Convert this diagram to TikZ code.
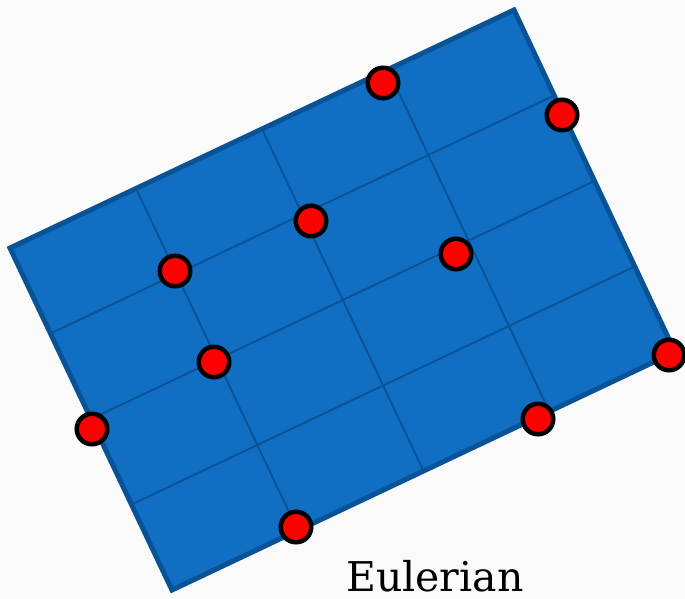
\documentclass[tikz,border=0pt]{standalone}
\usepackage{fontspec}
\usepackage{tikz}
\usetikzlibrary{calc}
\newfontfamily\capfont{DejaVu Serif}
\definecolor{sheetblue}{RGB}{16,110,195}
\definecolor{edgeblue}{RGB}{8,82,150}
\definecolor{dotred}{RGB}{255,0,0}

\begin{document}
\begin{tikzpicture}[
  x=1pt,y=-1pt,
  sheet/.style={fill=sheetblue},
  rim/.style={draw=edgeblue,line width=5pt},
  gline/.style={draw=edgeblue,line width=1.8pt},
  vtx/.style={circle,draw=black,fill=dotred,line width=4.5pt,
              minimum size=30.5pt,inner sep=0pt},
  lbl/.style={font=\capfont\fontsize{41}{46}\selectfont,inner sep=0pt,anchor=base west}
]
\fill[black!2] (0,0) rectangle (685,599);
\useasboundingbox (0,0) rectangle (685,599);

\coordinate (tl) at (10,248);
\coordinate (tr) at (514,10);
\coordinate (br) at (675,352);
\coordinate (bl) at (172,590);

\fill[sheet] (tl) -- (tr) -- (br) -- (bl) -- cycle;
\foreach \f in {0.25,0.5,0.75} {
  \draw[gline] ($(tl)!\f!(tr)$) -- ($(bl)!\f!(br)$);
  \draw[gline] ($(tl)!\f!(bl)$) -- ($(tr)!\f!(br)$);
}
\draw[rim] (tl) -- (tr) -- (br) -- (bl) -- cycle;

\node[vtx] (v1) at (383,83) {};
\node[vtx] (v2) at (562,115) {};
\node[vtx] (v3) at (311,221) {};
\node[vtx] (v4) at (456,254) {};
\node[vtx] (v5) at (175,271) {};
\node[vtx] (v6) at (214,362) {};
\node[vtx] (v7) at (669,355) {};
\node[vtx] (v8) at (92,429) {};
\node[vtx] (v9) at (538,419) {};
\node[vtx] (v10) at (296,527) {};

\node[lbl] (name) at (346,591) {Eulerian};
\end{tikzpicture}
\end{document}
